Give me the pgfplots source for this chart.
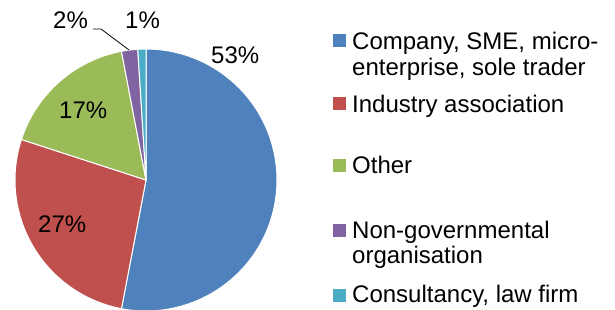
\documentclass[border=0pt]{standalone}
\usepackage{pgfplots}
\pgfplotsset{compat=1.18}
\usepackage{fontspec}
\setmainfont{Liberation Sans}
\definecolor{c1}{HTML}{4F81BD}
\definecolor{c2}{HTML}{C0504D}
\definecolor{c3}{HTML}{9BBB59}
\definecolor{c4}{HTML}{8064A2}
\definecolor{c5}{HTML}{4BACC6}
\begin{document}
\begin{tikzpicture}[every node/.style={font=\fontsize{24}{28}\selectfont}]
% shares in percent
\def\vA{53}\def\vB{27}\def\vC{17}\def\vD{2}\def\vE{1}
\pgfmathsetmacro{\aA}{90}
\pgfmathsetmacro{\aB}{\aA-3.6*\vA}
\pgfmathsetmacro{\aC}{\aB-3.6*\vB}
\pgfmathsetmacro{\aD}{\aC-3.6*\vC}
\pgfmathsetmacro{\aE}{\aD-3.6*\vD}
\pgfmathsetmacro{\aF}{\aE-3.6*\vE}
\begin{axis}[
  scale only axis, width=615pt, height=309pt,
  xmin=0, xmax=615, ymin=0, ymax=309,
  hide axis, clip=false,
]
\addplot[fill=c1, draw=white, line width=1pt, domain=\aB:\aA, samples=80, variable=\t] ({146+131*cos(\t)},{129+131*sin(\t)}) -- (146,129) -- cycle;
\addplot[fill=c2, draw=white, line width=1pt, domain=\aC:\aB, samples=60, variable=\t] ({146+131*cos(\t)},{129+131*sin(\t)}) -- (146,129) -- cycle;
\addplot[fill=c3, draw=white, line width=1pt, domain=\aD:\aC, samples=40, variable=\t] ({146+131*cos(\t)},{129+131*sin(\t)}) -- (146,129) -- cycle;
\addplot[fill=c4, draw=white, line width=1pt, domain=\aE:\aD, samples=10, variable=\t] ({146+131*cos(\t)},{129+131*sin(\t)}) -- (146,129) -- cycle;
\addplot[fill=c5, draw=white, line width=1pt, domain=\aF:\aE, samples=10, variable=\t] ({146+131*cos(\t)},{129+131*sin(\t)}) -- (146,129) -- cycle;
% data labels
\node[anchor=base west, inner sep=0] at (211,246) {53\%};
\node[anchor=base west, inner sep=0] at (38,77) {27\%};
\node[anchor=base west, inner sep=0] at (59,191) {17\%};
\node[anchor=base west, inner sep=0] at (53,281) {2\%};
\node[anchor=base west, inner sep=0] at (125,281) {1\%};
\draw[black, line width=0.8pt] (93,280) -- (101,280) -- (129,259);
% legend
\fill[c1] (333,262) rectangle (346,275);
\node[anchor=base west, inner sep=0] at (352,260) {Company, SME, micro-};
\node[anchor=base west, inner sep=0] at (352,234) {enterprise, sole trader};
\fill[c2] (333,199) rectangle (346,212);
\node[anchor=base west, inner sep=0] at (352,197) {Industry association};
\fill[c3] (333,137) rectangle (346,150);
\node[anchor=base west, inner sep=0] at (352,136) {Other};
\fill[c4] (333,72) rectangle (346,85);
\node[anchor=base west, inner sep=0] at (352,71) {Non-governmental};
\node[anchor=base west, inner sep=0] at (352,46) {organisation};
\fill[c5] (333,7) rectangle (346,20);
\node[anchor=base west, inner sep=0] at (352,7) {Consultancy, law firm};
\end{axis}
\pgfresetboundingbox
\path (0,0) rectangle (615pt,309pt);
\end{tikzpicture}
\end{document}
